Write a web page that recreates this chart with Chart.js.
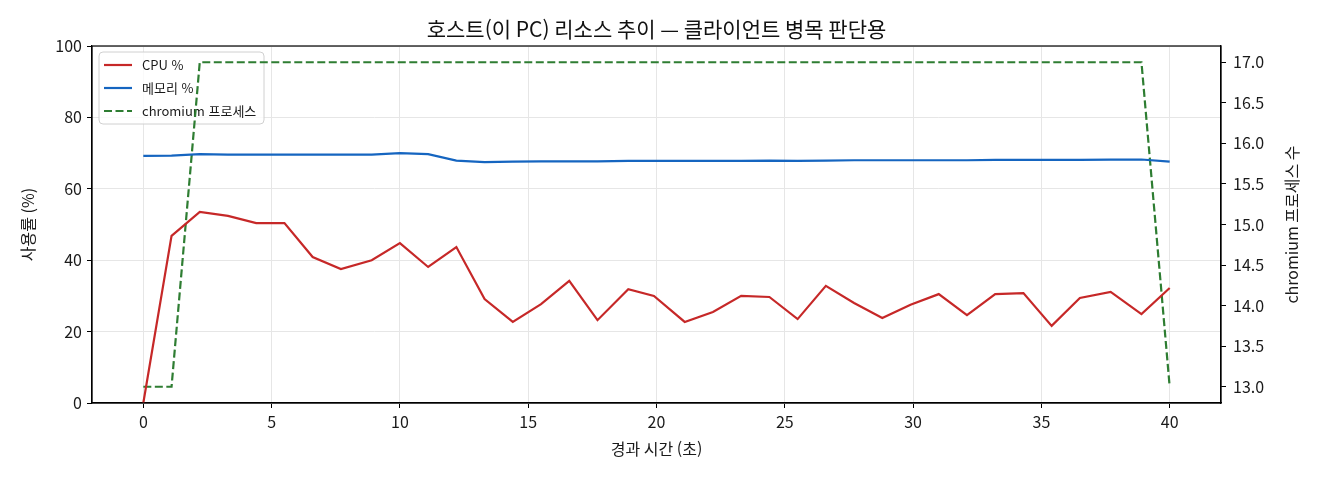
<!DOCTYPE html>
<html lang="ko">
<head>
<meta charset="utf-8">
<script src="https://cdn.jsdelivr.net/npm/chart.js@4.4.1/dist/chart.umd.min.js"></script>
<style>
  html, body { margin: 0; padding: 0; background: #fff; }
  #wrap { width: 1320px; height: 480px; }
</style>
</head>
<body>
<div id="wrap"><canvas id="c" width="1320" height="480"></canvas></div>
<script>
// ---- data ----
const times = [0, 1.1, 2.2, 3.3, 4.4, 5.5, 6.6, 7.7, 8.9, 10.0, 11.1, 12.2, 13.3, 14.4, 15.5, 16.6, 17.7, 18.9, 19.9, 21.1, 22.2, 23.3, 24.4, 25.5, 26.6, 27.7, 28.8, 29.9, 31.0, 32.1, 33.2, 34.3, 35.4, 36.5, 37.7, 38.9, 40.0];
const cpuPct = [0, 46.8, 53.5, 52.4, 50.4, 50.4, 40.9, 37.5, 40.0, 44.8, 38.1, 43.7, 29.1, 22.7, 27.7, 34.2, 23.2, 31.9, 30.0, 22.7, 25.5, 30.0, 29.7, 23.5, 32.8, 28.0, 23.8, 27.5, 30.5, 24.6, 30.5, 30.8, 21.6, 29.4, 31.1, 24.9, 32.2];
const memPct = [69.2, 69.3, 69.7, 69.6, 69.6, 69.6, 69.6, 69.6, 69.6, 70.0, 69.7, 67.9, 67.5, 67.6, 67.7, 67.7, 67.7, 67.8, 67.8, 67.8, 67.8, 67.8, 67.9, 67.8, 67.9, 68.0, 68.0, 68.0, 68.0, 68.0, 68.1, 68.1, 68.1, 68.1, 68.2, 68.2, 67.6];
const chromiumProcs = [13, 13, 17, 17, 17, 17, 17, 17, 17, 17, 17, 17, 17, 17, 17, 17, 17, 17, 17, 17, 17, 17, 17, 17, 17, 17, 17, 17, 17, 17, 17, 17, 17, 17, 17, 17, 13];
const seriesLabels = ['CPU %', '메모리 %', 'chromium 프로세스'];
const chartTitle = '호스트(이 PC) 리소스 추이 — 클라이언트 병목 판단용';
const xTitle = '경과 시간 (초)';
const yTitle = '사용률 (%)';
const y1Title = 'chromium 프로세스 수';

const FONT = '"Noto Sans CJK KR", "Noto Sans", sans-serif';
Chart.defaults.font.family = FONT;
Chart.defaults.color = '#1a1a1a';

const toXY = (arr) => arr.map((v, i) => ({ x: times[i], y: v }));

const frame = {
  id: 'frame',
  beforeDatasetsDraw(chart) {
    const { ctx } = chart;
    ctx.save();
    // legend box (drawn beneath the lines, like the twin-axis original)
    const bx = 99, by = 52, bw = 165, bh = 72, r = 4;
    ctx.beginPath();
    ctx.moveTo(bx + r, by);
    ctx.arcTo(bx + bw, by, bx + bw, by + bh, r);
    ctx.arcTo(bx + bw, by + bh, bx, by + bh, r);
    ctx.arcTo(bx, by + bh, bx, by, r);
    ctx.arcTo(bx, by, bx + bw, by, r);
    ctx.closePath();
    ctx.fillStyle = 'rgba(255,255,255,0.8)';
    ctx.fill();
    ctx.strokeStyle = '#d0d0d0';
    ctx.lineWidth = 1;
    ctx.stroke();
    const rows = [65, 88, 111];
    chart.data.datasets.forEach((ds, i) => {
      const y = rows[i];
      ctx.beginPath();
      ctx.setLineDash(ds.borderDash || []);
      ctx.strokeStyle = ds.borderColor;
      ctx.lineWidth = ds.borderWidth;
      ctx.moveTo(104, y);
      ctx.lineTo(132, y);
      ctx.stroke();
      ctx.setLineDash([]);
      ctx.font = '13px ' + FONT;
      ctx.fillStyle = '#1a1a1a';
      ctx.textAlign = 'left';
      ctx.textBaseline = 'middle';
      ctx.fillText(ds.label, 142, y);
    });
    ctx.restore();
  },
  afterDraw(chart) {
    const { ctx, chartArea: a } = chart;
    ctx.save();
    ctx.strokeStyle = '#000';
    ctx.lineWidth = 1.2;
    ctx.strokeRect(a.left, a.top, a.right - a.left, a.bottom - a.top);
    // right axis title (rotated counter-clockwise)
    ctx.translate(1292, (a.top + a.bottom) / 2);
    ctx.rotate(-Math.PI / 2);
    ctx.font = '16px ' + FONT;
    ctx.fillStyle = '#1a1a1a';
    ctx.textAlign = 'center';
    ctx.textBaseline = 'middle';
    ctx.fillText(y1Title, 0, 0);
    ctx.restore();
  }
};

const gridColor = '#e6e6e6';

new Chart(document.getElementById('c'), {
  type: 'line',
  data: {
    datasets: [
      { label: seriesLabels[0], data: toXY(cpuPct), borderColor: '#c62828', borderWidth: 2.2, pointRadius: 0, tension: 0, yAxisID: 'y' },
      { label: seriesLabels[1], data: toXY(memPct), borderColor: '#1565c0', borderWidth: 2.2, pointRadius: 0, tension: 0, yAxisID: 'y' },
      { label: seriesLabels[2], data: toXY(chromiumProcs), borderColor: '#2e7d32', borderWidth: 2.2, borderDash: [8, 3.5], pointRadius: 0, tension: 0, yAxisID: 'y1' }
    ]
  },
  options: {
    responsive: false,
    animation: false,
    layout: { padding: 0 },
    plugins: {
      legend: { display: false },
      tooltip: { enabled: false },
      title: {
        display: true, text: chartTitle, fullSize: false,
        font: { size: 21, weight: 'normal' }, color: '#111',
        padding: { top: 16.4, bottom: 4.4 }
      }
    },
    scales: {
      x: {
        type: 'linear', min: -2, max: 42,
        ticks: { stepSize: 5, includeBounds: false, font: { size: 16 }, color: '#1a1a1a', padding: 4, maxRotation: 0 },
        grid: { color: gridColor, lineWidth: 1, tickColor: '#000', tickLength: 5 },
        border: { display: true, color: '#000', width: 1.2 },
        title: { display: true, text: xTitle, font: { size: 16 }, color: '#1a1a1a', padding: { top: 0, bottom: 21 } },
        afterFit(s) { s.height = 77; }
      },
      y: {
        position: 'left', min: 0, max: 100,
        ticks: { stepSize: 20, includeBounds: false, font: { size: 16 }, color: '#1a1a1a', padding: 5 },
        grid: { color: gridColor, lineWidth: 1, tickColor: '#000', tickLength: 5 },
        border: { display: true, color: '#000', width: 1.2 },
        title: { display: true, text: yTitle, font: { size: 16 }, color: '#1a1a1a', padding: { top: 18, bottom: 0 } },
        afterFit(s) { s.width = 92; }
      },
      y1: {
        position: 'right', min: 12.8, max: 17.2,
        ticks: { stepSize: 0.5, includeBounds: false, font: { size: 16 }, color: '#1a1a1a', padding: 7,
          callback: (v) => Number(v).toFixed(1) },
        grid: { drawOnChartArea: false, tickColor: '#000', tickLength: 5 },
        border: { display: true, color: '#000', width: 1.2 },
        afterFit(s) { s.width = 99; }
      }
    }
  },
  plugins: [frame]
});
</script>
</body>
</html>
